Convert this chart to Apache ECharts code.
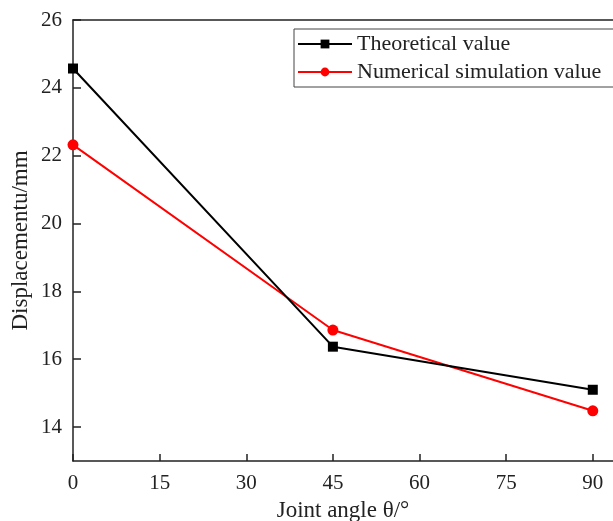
<!DOCTYPE html>
<html>
<head>
<meta charset="utf-8">
<script src="https://cdn.jsdelivr.net/npm/echarts@6/dist/echarts.min.js"></script>
<style>
  html, body { margin: 0; padding: 0; background: #fff; }
  #chart { width: 613px; height: 521px; }
</style>
</head>
<body>
<div id="chart"></div>
<script>
// Values.
const angles = [0, 45, 90];
const theoretical = [24.57, 16.37, 15.1];
const numerical = [22.32, 16.86, 14.48];
const xTicks = [0, 15, 30, 45, 60, 75, 90];
const yTicks = [14, 16, 18, 20, 22, 24, 26];

const FONT = "'Liberation Serif', 'Times New Roman', serif";
const INK = "#222";

const pairs = (ys) => angles.map((x, i) => [x, ys[i]]);

const option = {
  animation: false,
  textStyle: { fontFamily: FONT },
  // v6 would otherwise shrink the grid to keep the axis name inside the canvas
  grid: { left: 73, right: 0, top: 20, bottom: 60, outerBoundsMode: "none" },
  legend: {
    orient: "vertical",
    left: 294,
    top: 29,
    padding: [4, 60, 4, 3],
    itemGap: 6,
    itemWidth: 54,
    itemHeight: 11,
    borderColor: "#444",
    borderWidth: 1,
    textStyle: { fontFamily: FONT, fontSize: 22, color: INK },
    data: ["Theoretical value", "Numerical simulation value"],
  },
  xAxis: [
    {
      type: "value",
      min: 0,
      max: 93.5,
      name: "Joint angle θ/°",
      nameLocation: "middle",
      nameGap: 38,
      nameTextStyle: { fontFamily: FONT, fontSize: 23, color: INK },
      splitLine: { show: false },
      axisLine: { lineStyle: { color: INK, width: 1.5 } },
      axisTick: { inside: true, length: 7, lineStyle: { color: INK, width: 1.5 }, customValues: xTicks },
      axisLabel: { fontFamily: FONT, fontSize: 21, color: INK, margin: 12, customValues: xTicks },
    },
    {
      type: "value",
      position: "top",
      min: 0,
      max: 93.5,
      splitLine: { show: false },
      axisLine: { show: true, lineStyle: { color: INK, width: 1.5 } },
      axisTick: { show: false },
      axisLabel: { show: false },
    },
  ],
  yAxis: {
    type: "value",
    min: 13,
    max: 26,
    name: "Displacementu/mm",
    nameLocation: "middle",
    nameGap: 41,
    nameMoveOverlap: false,
    nameTextStyle: { fontFamily: FONT, fontSize: 23, color: INK },
    splitLine: { show: false },
    axisLine: { show: true, lineStyle: { color: INK, width: 1.5 } },
    axisTick: { show: true, inside: true, length: 8, lineStyle: { color: INK, width: 1.5 }, customValues: yTicks },
    axisLabel: { fontFamily: FONT, fontSize: 21, color: INK, margin: 11, customValues: yTicks },
  },
  series: [
    {
      name: "Theoretical value",
      type: "line",
      data: pairs(theoretical),
      symbol: "rect",
      symbolSize: 10,
      lineStyle: { color: "#000", width: 2 },
      itemStyle: { color: "#000" },
      z: 3,
    },
    {
      name: "Numerical simulation value",
      type: "line",
      data: pairs(numerical),
      symbol: "circle",
      symbolSize: 11,
      lineStyle: { color: "#f00", width: 2 },
      itemStyle: { color: "#f00" },
      z: 2,
    },
  ],
};

const chart = echarts.init(document.getElementById("chart"));
chart.setOption(option);
</script>
</body>
</html>
